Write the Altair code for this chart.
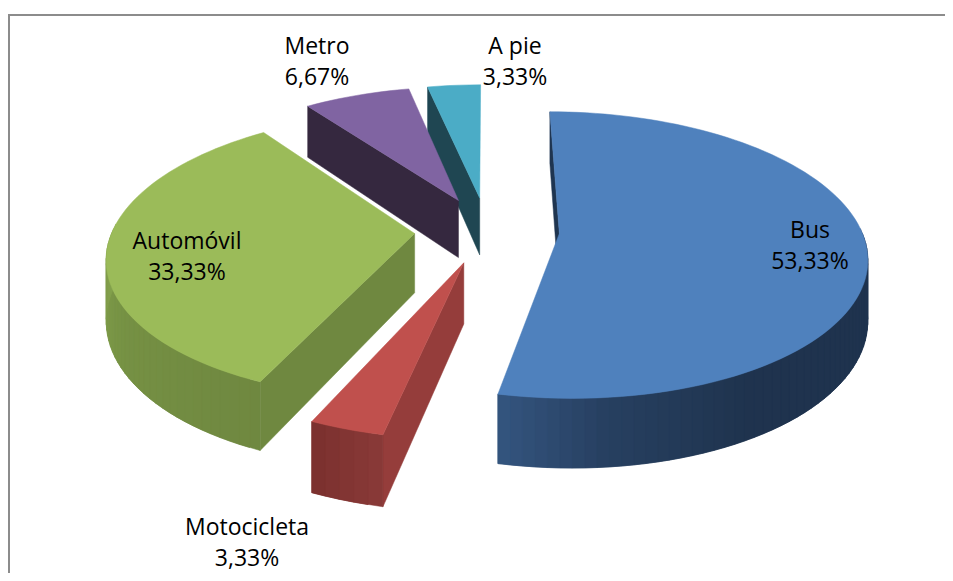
import math
import altair as alt
import pandas as pd

# values
names = ["Bus", "Motocicleta", "Automóvil", "Metro", "A pie"]
shares = [53.33, 3.33, 33.33, 6.67, 3.33]
top_colors = ["#4f81bd", "#c0504d", "#9bbb59", "#8064a2", "#4bacc6"]
face_colors = ["#1f3550", "#953d3b", "#6f8840", "#35283f", "#1f4652"]
# side shade stops: (angle, [r,g,b])
side_stops = [
    [(90, (31, 51, 78)), (150, (31, 51, 78)), (175, (39, 64, 97)), (192, (52, 85, 127))],
    [(192, (138, 58, 56)), (204, (122, 48, 46))],
    [(204, (111, 136, 64)), (240, (118, 145, 68)), (268, (130, 160, 76))],
    [(324, (53, 40, 63)), (348, (53, 40, 63))],
    [(348, (31, 70, 82)), (360, (31, 70, 82))],
]
draw_order = [4, 3, 2, 0, 1]

label_top = ["Bus", "Motocicleta", "Automóvil", "Metro", "A pie"]
label_val = ["53,33%", "3,33%", "33,33%", "6,67%", "3,33%"]
label_x = [810, 247, 187, 317, 515]
label_y1 = [231, 528, 242, 47, 47]
label_y2 = [262, 559, 273, 78, 78]

# projection of the exploded 3D pie
CX, CY, RX, RY, K, H, EXPLODE = 487, 230, 302, 139, 0.15, 59, 0.24


def proj(u, v, z=0):
    s = 1 / (1 + K * v)
    return CX + RX * u * s, CY - RY * v * s + z * H * s


rows = []
pid = 0


def add_poly(points, color):
    global pid
    for i, (x, y) in enumerate(points):
        rows.append({"x": x, "y": y, "poly": pid, "seq": i, "fill": color})
    pid += 1


def shade(stops, t):
    if t <= stops[0][0]:
        c = stops[0][1]
    elif t >= stops[-1][0]:
        c = stops[-1][1]
    else:
        for (a0, c0), (a1, c1) in zip(stops, stops[1:]):
            if a0 <= t <= a1:
                f = (t - a0) / (a1 - a0)
                c = tuple(c0[j] + (c1[j] - c0[j]) * f for j in range(3))
                break
    return "#%02x%02x%02x" % tuple(int(round(x)) for x in c)


starts = []
acc = 0.0
total = sum(shares)
for s in shares:
    a0 = acc / total * 360
    acc += s
    starts.append((a0, acc / total * 360))

for w in draw_order:
    a0, a1 = starts[w]
    mid = math.radians((a0 + a1) / 2)
    ou, ov = EXPLODE * math.sin(mid), EXPLODE * math.cos(mid)
    n = max(2, int((a1 - a0) / 2))
    angs = [a0 + (a1 - a0) * i / n for i in range(n + 1)]
    pts = [(ou + math.sin(math.radians(a)), ov + math.cos(math.radians(a))) for a in angs]
    # the radial face at the start of each slice is the one that faces the viewer
    add_poly([proj(ou, ov), proj(*pts[0]), proj(*pts[0], 1), proj(ou, ov, 1)], face_colors[w])
    # outer wall strips on the near half, each overlapping the next to hide seams
    for i in range(n):
        if math.cos(math.radians(angs[i])) > 0 and math.cos(math.radians(angs[i + 1])) > 0:
            continue
        p, q = pts[i], pts[min(i + 2, n)]
        add_poly([proj(*p), proj(*q), proj(*q, 1), proj(*p, 1)],
                 shade(side_stops[w], (angs[i] + angs[i + 1]) / 2))
    # top
    add_poly([proj(ou, ov)] + [proj(*p) for p in pts], top_colors[w])

df = pd.DataFrame(rows)

W, H_ = 937, 565
xs = alt.Scale(domain=[8, 8 + W], range=[0, W], nice=False, zero=False)
ys = alt.Scale(domain=[8, 8 + H_], range=[0, H_], nice=False, zero=False)

frame = alt.Chart(pd.DataFrame({"x": [9], "x2": [1100], "y": [15], "y2": [700]})).mark_rect(
    fill="white", stroke="#8c8c8c", strokeWidth=2, clip=True
).encode(
    x=alt.X("x:Q", scale=xs, axis=None),
    x2="x2:Q",
    y=alt.Y("y:Q", scale=ys, axis=None),
    y2="y2:Q",
)

pie = alt.Chart(df).mark_line(strokeWidth=0.5, interpolate="linear-closed").encode(
    x=alt.X("x:Q", scale=xs, axis=None),
    y=alt.Y("y:Q", scale=ys, axis=None),
    detail="poly:N",
    order="seq:Q",
    fill=alt.Fill("fill:N", scale=None),
    stroke=alt.Stroke("fill:N", scale=None),
)

tdf = pd.DataFrame(
    [{"x": x, "y": y, "t": t} for x, y, t in zip(label_x, label_y1, label_top)]
    + [{"x": x, "y": y, "t": t} for x, y, t in zip(label_x, label_y2, label_val)]
)
text = alt.Chart(tdf).mark_text(
    font="Open Sans", fontSize=23, color="#000000", align="center", baseline="middle"
).encode(
    x=alt.X("x:Q", scale=xs, axis=None),
    y=alt.Y("y:Q", scale=ys, axis=None),
    text="t:N",
)

chart = (frame + pie + text).properties(
    width=W, height=H_, padding=0,
    autosize=alt.AutoSizeParams(type="none"),
).configure_view(stroke=None)

chart.save("out.html", embed_options={"renderer": "svg", "actions": False})
